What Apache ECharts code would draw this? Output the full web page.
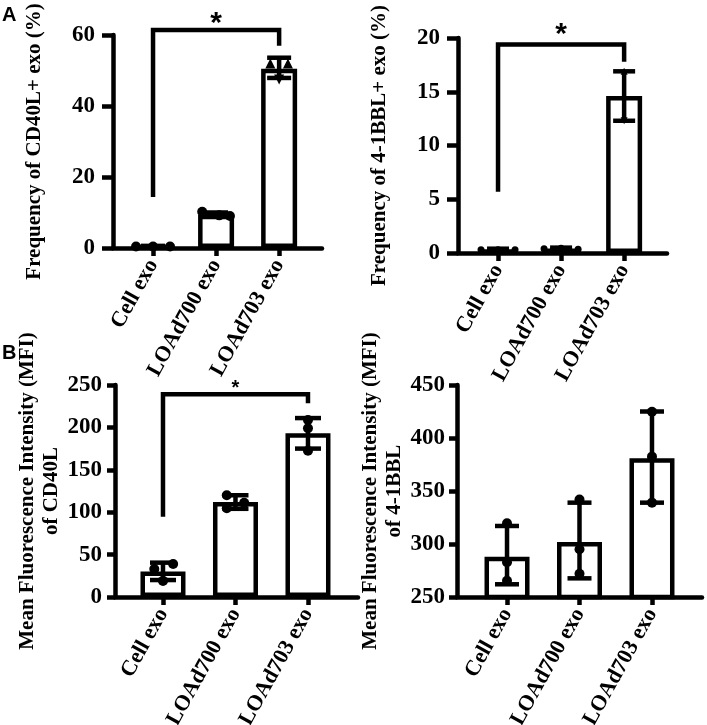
<!DOCTYPE html>
<html>
<head>
<meta charset="utf-8">
<script src="https://cdn.jsdelivr.net/npm/echarts@6/dist/echarts.min.js"></script>
<style>html,body{margin:0;padding:0;background:#fff}#c{width:707px;height:725px}</style>
</head>
<body>
<div id="c"></div>
<script>
// ---------- data ----------
const categories = ['Cell exo', 'LOAd700 exo', 'LOAd703 exo'];

// Panel A left: Frequency of CD40L+ exo (%)
const cd40lFreqTicks = [0, 20, 40, 60];
const cd40lFreqMean = [0.5, 9.4, 50.5];
const cd40lFreqLow = [0.3, 9.0, 47.9];
const cd40lFreqHigh = [0.6, 10.0, 53.6];
const cd40lFreqPoints = [[0.4, 0.4, 0.4], [10.2, 9.2, 9.0], [52.0, 52.0, 47.5]];
const cd40lFreqJitter = [[-0.27, 0, 0.27], [-0.22, 0.05, 0.22], [-0.14, 0.14, 0]];
const cd40lFreqBracket = [14.4, 61.4, 57.0];
const cd40lFreqStar = 63.3;

// Panel A right: Frequency of 4-1BBL+ exo (%)
const bblFreqTicks = [0, 5, 10, 15, 20];
const bblFreqMean = [0.3, 0.4, 14.6];
const bblFreqLow = [0.2, 0.3, 12.3];
const bblFreqHigh = [0.4, 0.5, 16.9];
const bblFreqPoints = [[0.3, 0.3, 0.3], [0.4, 0.45, 0.35], [16.9, 14.6, 12.3]];
const bblFreqJitter = [[-0.27, 0, 0.27], [-0.27, 0, 0.27], [0, 0, 0]];
const bblFreqBracket = [5.7, 19.4, 17.8];
const bblFreqStar = 20.3;

// Panel B left: MFI of CD40L
const cd40lMfiTicks = [0, 50, 100, 150, 200, 250];
const cd40lMfiMean = [30, 112, 193];
const cd40lMfiLow = [20, 104, 175];
const cd40lMfiHigh = [40.5, 120, 211];
const cd40lMfiPoints = [[33, 39, 19], [120, 104.6, 111], [208.7, 199, 172.5]];
const cd40lMfiJitter = [[-0.12, 0.14, 0], [-0.12, -0.12, 0.12], [0, 0, 0]];
const cd40lMfiBracket = [94.7, 239, 228.4];
const cd40lMfiStar = 246;

// Panel B right: MFI of 4-1BBL
const bblMfiTicks = [250, 300, 350, 400, 450];
const bblMfiMean = [288, 302, 381];
const bblMfiLow = [262, 267.6, 339];
const bblMfiHigh = [317, 339, 425];
const bblMfiPoints = [[319.5, 282.7, 265.4], [342, 295, 272], [424.8, 382.4, 339]];
const bblMfiJitter = [[0, 0, 0], [0, 0, 0], [0, 0, 0]];

// ---------- build ----------
const SERIF = 'Liberation Serif';
const LW = 4.5;
const panels = [
  { name: 'Frequency of CD40L+ exo (%)', ticks: cd40lFreqTicks, mean: cd40lFreqMean, low: cd40lFreqLow, high: cd40lFreqHigh,
    points: cd40lFreqPoints, jitter: cd40lFreqJitter, bracket: cd40lFreqBracket, star: cd40lFreqStar,
    grid: { left: 113, top: 35, width: 209, height: 213 }, xMin: -0.635, xMax: 2.68, barWidth: 36, cap: 24,
    nameGap: 66, tickLen: 11, xTickLen: 8, labelMargin: 18, starSize: 30, symbols: ['circle', 'circle', 'triangle'], symSize: 10 },
  { name: 'Frequency of 4-1BBL+ exo (%)', ticks: bblFreqTicks, mean: bblFreqMean, low: bblFreqLow, high: bblFreqHigh,
    points: bblFreqPoints, jitter: bblFreqJitter, bracket: bblFreqBracket, star: bblFreqStar,
    grid: { left: 458, top: 38, width: 209, height: 215 }, xMin: -0.635, xMax: 2.68, barWidth: 36, cap: 22,
    nameGap: 66, tickLen: 11, xTickLen: 8, labelMargin: 18, starSize: 30, symbols: ['circle', 'circle', 'triangle'], symSize: 7 },
  { name: 'Mean Fluorescence Intensity (MFI)\nof CD40L', ticks: cd40lMfiTicks, mean: cd40lMfiMean, low: cd40lMfiLow, high: cd40lMfiHigh,
    points: cd40lMfiPoints, jitter: cd40lMfiJitter, bracket: cd40lMfiBracket, star: cd40lMfiStar,
    grid: { left: 115, top: 385, width: 243, height: 212 }, xMin: -0.662, xMax: 2.69, barWidth: 45, cap: 26,
    nameGap: 37, tickLen: 8, xTickLen: 8, labelMargin: 13, starSize: 20, symbols: ['circle', 'circle', 'circle'], symSize: 10 },
  { name: 'Mean Fluorescence Intensity (MFI)\nof 4-1BBL', ticks: bblMfiTicks, mean: bblMfiMean, low: bblMfiLow, high: bblMfiHigh,
    points: bblMfiPoints, jitter: bblMfiJitter, bracket: null, star: null,
    grid: { left: 457, top: 385, width: 245, height: 212 }, xMin: -0.69, xMax: 2.69, barWidth: 45, cap: 24,
    nameGap: 30, tickLen: 8, xTickLen: 8, labelMargin: 12, starSize: 20, symbols: ['circle', 'circle', 'circle'], symSize: 10 }
];

const grids = [], xAxes = [], yAxes = [], series = [];
const idx = categories.map((c, i) => i);

panels.forEach((p, k) => {
  grids.push(Object.assign({ containLabel: false, outerBoundsMode: 'none' }, p.grid));
  xAxes.push({
    type: 'value', gridIndex: k, min: p.xMin, max: p.xMax,
    splitLine: { show: false },
    axisLine: { show: true, onZero: false, lineStyle: { color: '#000', width: LW } },
    axisTick: { show: true, customValues: idx, length: p.xTickLen, lineStyle: { color: '#000', width: LW } },
    axisLabel: { customValues: idx, formatter: v => categories[Math.round(v)], rotate: 61, margin: 13,
      fontFamily: SERIF, fontWeight: 'bold', fontSize: 22, color: '#000' }
  });
  const t = p.ticks;
  yAxes.push({
    type: 'value', gridIndex: k, min: t[0], max: t[t.length - 1], interval: t[1] - t[0],
    name: p.name, nameLocation: 'middle', nameGap: p.nameGap,
    nameTextStyle: { fontFamily: SERIF, fontWeight: 'bold', fontSize: 21, color: '#000', lineHeight: 24 },
    splitLine: { show: false },
    axisLine: { show: true, onZero: false, lineStyle: { color: '#000', width: LW } },
    axisTick: { show: true, length: p.tickLen, lineStyle: { color: '#000', width: LW } },
    axisLabel: { margin: p.labelMargin, fontFamily: SERIF, fontWeight: 'bold', fontSize: 23, color: '#000' }
  });
  series.push({
    type: 'bar', xAxisIndex: k, yAxisIndex: k, barWidth: p.barWidth, z: 1,
    data: p.mean.map((v, i) => [i, v]),
    itemStyle: { color: '#fff', borderColor: '#000', borderWidth: LW, opacity: 1 },
    clip: true, silent: true
  });
  const capHalf = p.cap / 2;
  series.push({
    type: 'custom', xAxisIndex: k, yAxisIndex: k, z: 5,
    data: p.mean.map((v, i) => [i, p.low[i], p.high[i]]),
    encode: { x: 0, y: [1, 2] },
    renderItem: (params, api) => {
      const x = api.value(0);
      const a = api.coord([x, api.value(1)]);
      const b = api.coord([x, api.value(2)]);
      const st = { stroke: '#000', lineWidth: LW };
      return { type: 'group', children: [
        { type: 'line', shape: { x1: a[0], y1: a[1], x2: b[0], y2: b[1] }, style: st },
        { type: 'line', shape: { x1: a[0] - capHalf, y1: a[1], x2: a[0] + capHalf, y2: a[1] }, style: st },
        { type: 'line', shape: { x1: b[0] - capHalf, y1: b[1], x2: b[0] + capHalf, y2: b[1] }, style: st }
      ]};
    },
    silent: true
  });
  const pts = [];
  p.points.forEach((arr, i) => arr.forEach((v, j) => {
    const sym = p.symbols[i];
    pts.push({ value: [i + p.jitter[i][j], v], symbol: sym,
      symbolRotate: (sym === 'triangle' && v < p.mean[i]) ? 180 : 0 });
  }));
  series.push({
    type: 'scatter', xAxisIndex: k, yAxisIndex: k, data: pts, symbolSize: p.symSize, z: 6,
    itemStyle: { color: '#000', opacity: 1 }, clip: false, silent: true
  });
  if (p.bracket) {
    const br = p.bracket;
    series.push({
      type: 'line', xAxisIndex: k, yAxisIndex: k, clip: false, silent: true, z: 5,
      data: [[0, br[0]], [0, br[1]], [2, br[1]], [2, br[2]]],
      symbol: 'none', lineStyle: { color: '#000', width: LW, join: 'miter', opacity: 1 }
    });
    series.push({
      type: 'scatter', xAxisIndex: k, yAxisIndex: k, clip: false, silent: true, z: 6,
      data: [[1, p.star]], symbolSize: 0.1, itemStyle: { color: '#000', opacity: 1 },
      label: { show: true, position: 'inside', formatter: '*', fontFamily: 'Liberation Sans', fontWeight: 'bold',
        fontSize: p.starSize, color: '#000', opacity: 1 }
    });
  }
});

const chart = echarts.init(document.getElementById('c'), null, { renderer: 'canvas' });
chart.setOption({
  animation: false,
  backgroundColor: '#fff',
  title: [
    { text: 'A', left: 2, top: 5, padding: 0, textStyle: { fontFamily: 'Liberation Sans', fontWeight: 'bold', fontSize: 20, color: '#000' } },
    { text: 'B', left: 2, top: 343, padding: 0, textStyle: { fontFamily: 'Liberation Sans', fontWeight: 'bold', fontSize: 20, color: '#000' } }
  ],
  grid: grids, xAxis: xAxes, yAxis: yAxes, series: series
});
</script>
</body>
</html>
